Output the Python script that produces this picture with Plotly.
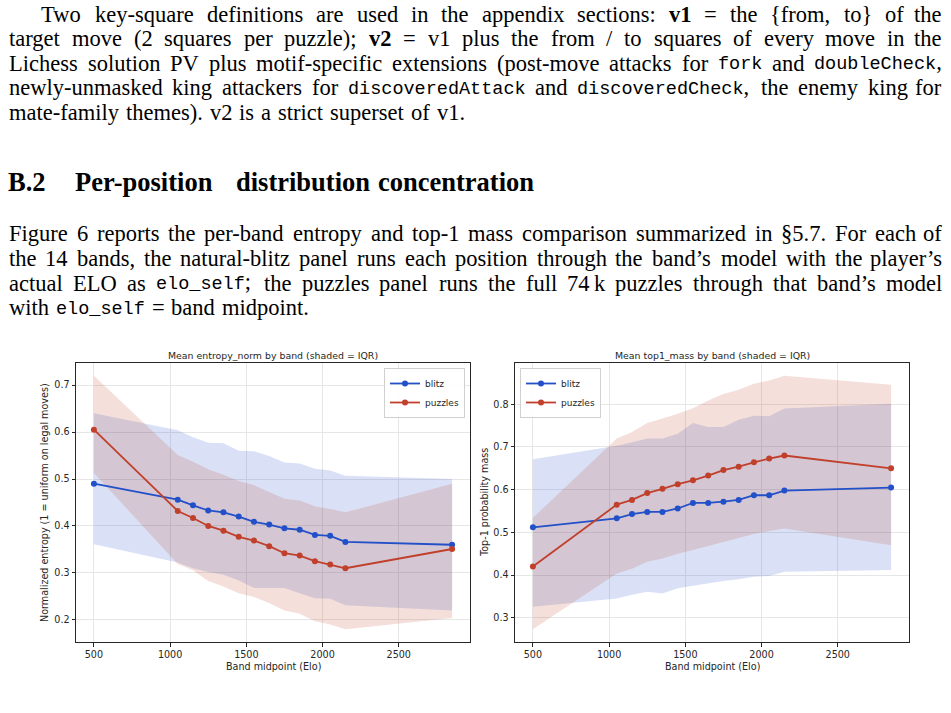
import html
import plotly.graph_objects as go

# ---------------- data ----------------
BANDS = [500, 1050, 1150, 1250, 1350, 1450, 1550, 1650, 1750, 1850, 1950, 2050, 2150, 2850]

entropy_blitz_mean = [0.490, 0.456, 0.444, 0.433, 0.429, 0.420, 0.409, 0.403, 0.395, 0.392, 0.381, 0.379, 0.366, 0.360]
entropy_blitz_q1 = [0.361, 0.322, 0.310, 0.302, 0.296, 0.284, 0.268, 0.268, 0.268, 0.257, 0.246, 0.245, 0.231, 0.220]
entropy_blitz_q3 = [0.640, 0.604, 0.589, 0.577, 0.576, 0.560, 0.559, 0.549, 0.535, 0.533, 0.522, 0.518, 0.507, 0.500]
entropy_puzzles_mean = [0.605, 0.432, 0.417, 0.400, 0.390, 0.377, 0.369, 0.357, 0.342, 0.337, 0.325, 0.318, 0.310, 0.351]
entropy_puzzles_q1 = [0.513, 0.319, 0.306, 0.283, 0.271, 0.257, 0.249, 0.236, 0.220, 0.213, 0.197, 0.190, 0.180, 0.204]
entropy_puzzles_q3 = [0.720, 0.551, 0.537, 0.521, 0.509, 0.496, 0.487, 0.473, 0.458, 0.454, 0.442, 0.436, 0.429, 0.490]

top1_blitz_mean = [0.512, 0.533, 0.543, 0.548, 0.548, 0.556, 0.569, 0.569, 0.572, 0.576, 0.587, 0.587, 0.598, 0.605]
top1_blitz_q1 = [0.326, 0.345, 0.354, 0.361, 0.357, 0.369, 0.375, 0.381, 0.386, 0.390, 0.396, 0.398, 0.408, 0.412]
top1_blitz_q3 = [0.671, 0.703, 0.711, 0.720, 0.720, 0.731, 0.756, 0.747, 0.747, 0.764, 0.773, 0.772, 0.790, 0.801]
top1_puzzles_mean = [0.420, 0.565, 0.576, 0.592, 0.602, 0.613, 0.622, 0.633, 0.646, 0.654, 0.664, 0.673, 0.680, 0.650]
top1_puzzles_q1 = [0.273, 0.404, 0.415, 0.431, 0.439, 0.450, 0.459, 0.468, 0.478, 0.486, 0.496, 0.503, 0.509, 0.470]
top1_puzzles_q3 = [0.534, 0.720, 0.735, 0.756, 0.767, 0.778, 0.791, 0.809, 0.824, 0.834, 0.848, 0.856, 0.867, 0.846]

X_TICKS = [500, 1000, 1500, 2000, 2500]
Y1_TICKS = [0.2, 0.3, 0.4, 0.5, 0.6, 0.7]
Y2_TICKS = [0.3, 0.4, 0.5, 0.6, 0.7, 0.8]

TITLE_LEFT = "Mean entropy_norm by band (shaded = IQR)"
TITLE_RIGHT = "Mean top1_mass by band (shaded = IQR)"
YLABEL_LEFT = "Normalized entropy (1 = uniform on legal moves)"
YLABEL_RIGHT = "Top-1 probability mass"
XLABEL = "Band midpoint (Elo)"

PARA1 = [
    "Two key-square definitions are used in the appendix sections: **v1** = the {from, to} of the",
    "target move (2 squares per puzzle); **v2** = v1 plus the from / to squares of every move in the",
    "Lichess solution PV plus motif-specific extensions (post-move attacks for `fork` and `doubleCheck`,",
    "newly-unmasked king attackers for `discoveredAttack` and `discoveredCheck`, the enemy king for",
    "mate-family themes). v2 is a strict superset of v1.",
]
HEADING = ["B.2", "Per-position", "distribution", "concentration"]
PARA2 = [
    "Figure 6 reports the per-band entropy and top-1 mass comparison summarized in §5.7. For each of",
    "the 14 bands, the natural-blitz panel runs each position through the band’s model with the player’s",
    "actual ELO as `elo_self`; the puzzles panel runs the full 74\u2009k puzzles through that band’s model",
    "with `elo_self` = band midpoint.",
]

# ---------------- layout constants ----------------
W, H = 951, 713
BLUE = "#2250c8"
RED = "#c0402b"
BLUE_FILL = "rgba(34,80,200,0.17)"
RED_FILL = "rgba(192,64,43,0.17)"
SERIF = "Liberation Serif"
MONO = "Liberation Mono"
SANS = "DejaVu Sans"
FS = 22.5
MFS = 18.5
MONO_LIFT = 1.0


def _mk(groups):
    d = {}
    for chars, w in groups:
        for c in chars:
            d[c] = w
    return d


TIMES_R = _mk([
    (" ,.", 250), ("ijlt:;/\\", 278), ("fr()-[]I'’!", 333), ("sJ", 389), ("acez?", 444),
    ("{}", 480), ("bdghknopquvxy0123456789_§*$#", 500), ("FPS", 556), ("=+<>", 564),
    ("ELTZ", 611), ("BCR", 667), ("ADGHKNOQUVXYw", 722), ("m&", 778), ("%", 833),
    ("M", 889), ("W", 944), ("|", 200), ("\u2009", 167),
])
TIMES_B = _mk([
    (" ,.", 250), ("il:;", 278), ("ftj()-", 333), ("sI", 389), ("cerz", 444),
    ("agovxy0123456789J", 500), ("bdhknpquS", 556), ("FP", 611), ("BELTZ", 667),
    ("ACDNRUVXYw", 722), ("GHKOQ", 778), ("m", 833), ("M", 944), ("W", 1000),
])


def parse_word(w):
    segs, style, buf, i = [], "r", "", 0
    while i < len(w):
        if w.startswith("**", i):
            if buf:
                segs.append((buf, style))
                buf = ""
            style = "r" if style == "b" else "b"
            i += 2
            continue
        if w[i] == "`":
            if buf:
                segs.append((buf, style))
                buf = ""
            style = "r" if style == "m" else "m"
            i += 1
            continue
        buf += w[i]
        i += 1
    if buf:
        segs.append((buf, style))
    return segs


def seg_width(text, style, fs=FS):
    if style == "m":
        return 0.6 * MFS * len(text)
    table = TIMES_B if style == "b" else TIMES_R
    return sum(table.get(c, 500) for c in text) * fs / 1000.0


def word_width(segs):
    w = sum(seg_width(t, s) for t, s in segs)
    if len(set(s for _, s in segs)) > 1:
        w += 2.0
    return w


def seg_html(text, style):
    t = html.escape(text, quote=False)
    if style == "b":
        return "<b>" + t + "</b>"
    if style == "m":
        return "<span style=\"font-family:Liberation Mono;font-size:%spx\">%s</span>" % (MFS, t)
    return t


annotations = []


def word_ann(px, baseline, segs, anchor="left"):
    all_mono = all(s == "m" for _, s in segs)
    any_mono = any(s == "m" for _, s in segs)
    if all_mono:
        text = html.escape("".join(t for t, _ in segs), quote=False)
        font = dict(family=MONO, size=MFS, color="black")
        off = (0.833 - 0.300) / 2 * MFS
    else:
        text = "".join(seg_html(t, s) for t, s in segs)
        font = dict(family=SERIF, size=FS, color="black")
        off = (0.891 - 0.216) / 2 * FS
    if any_mono:
        off += MONO_LIFT
    annotations.append(dict(
        x=px / W, y=1 - (baseline - off) / H, xref="paper", yref="paper",
        xanchor=anchor, yanchor="middle", showarrow=False, text=text,
        font=font, borderpad=0,
    ))


def layout_line(line, x0, x1, baseline, justify):
    words = [parse_word(w) for w in line.split(" ")]
    widths = [word_width(ws) for ws in words]
    if justify and len(words) > 1:
        gap = (x1 - x0 - sum(widths)) / (len(words) - 1)
    else:
        gap = 7.0
    x = x0
    n = len(words)
    for k, (ws, wd) in enumerate(zip(words, widths)):
        if justify and k == n - 1:
            word_ann(x1, baseline, ws, anchor="right")
        else:
            word_ann(x, baseline, ws)
        x += wd + gap


P1_BASE = [21.7, 46.3, 70.9, 95.5, 120.1]
for i, line in enumerate(PARA1):
    layout_line(line, 40 if i == 0 else 8, 943, P1_BASE[i], i < len(PARA1) - 1)

P2_BASE = [241.5, 266.1, 290.7, 315.3]
for i, line in enumerate(PARA2):
    layout_line(line, 8, 943, P2_BASE[i], i < len(PARA2) - 1)

HEAD_X = [7.3, 74, 234.5, 377]
HFS = 26.5
for hx, hw in zip(HEAD_X, HEADING):
    annotations.append(dict(
        x=hx / W, y=1 - (190.7 - (0.891 - 0.216) / 2 * HFS) / H, xref="paper", yref="paper",
        xanchor="left", yanchor="middle", showarrow=False, text="<b>" + hw + "</b>",
        font=dict(family=SERIF, size=HFS, color="black"), borderpad=0,
    ))

# ---------------- chart ----------------
fig = go.Figure()


def pad_range(*arrs):
    vals = [v for a in arrs for v in a]
    lo, hi = min(vals), max(vals)
    m = 0.05 * (hi - lo)
    return [lo - m, hi + m]


def add_panel(xa, ya, legend, b_mean, b_q1, b_q3, p_mean, p_q1, p_q3):
    common = dict(x=BANDS, xaxis=xa, yaxis=ya, hoverinfo="skip")
    fig.add_trace(go.Scatter(y=b_q1, mode="lines", line=dict(width=0, color=BLUE),
                             showlegend=False, **common))
    fig.add_trace(go.Scatter(y=b_q3, mode="lines", line=dict(width=0, color=BLUE),
                             fill="tonexty", fillcolor=BLUE_FILL, showlegend=False, **common))
    fig.add_trace(go.Scatter(y=p_q1, mode="lines", line=dict(width=0, color=RED),
                             showlegend=False, **common))
    fig.add_trace(go.Scatter(y=p_q3, mode="lines", line=dict(width=0, color=RED),
                             fill="tonexty", fillcolor=RED_FILL, showlegend=False, **common))
    fig.add_trace(go.Scatter(y=b_mean, mode="lines+markers", name="blitz", legend=legend,
                             line=dict(width=1.8, color=BLUE), marker=dict(size=6, color=BLUE),
                             **common))
    fig.add_trace(go.Scatter(y=p_mean, mode="lines+markers", name="puzzles", legend=legend,
                             line=dict(width=1.8, color=RED), marker=dict(size=6, color=RED),
                             **common))


add_panel("x", "y", "legend", entropy_blitz_mean, entropy_blitz_q1, entropy_blitz_q3,
          entropy_puzzles_mean, entropy_puzzles_q1, entropy_puzzles_q3)
add_panel("x2", "y2", "legend2", top1_blitz_mean, top1_blitz_q1, top1_blitz_q3,
          top1_puzzles_mean, top1_puzzles_q1, top1_puzzles_q3)

L_X = (76, 470)
R_X = (515, 909)
TOP, BOT = 363, 642
CFS = 9.6

axis_common = dict(
    showline=True, linecolor="#262626", linewidth=1, mirror=True,
    ticks="outside", ticklen=3.5, tickwidth=0.8, tickcolor="#262626",
    showgrid=True, gridcolor="#e6e6e6", gridwidth=0.8, zeroline=False,
    tickfont=dict(family=SANS, size=CFS, color="#262626"),
)

legend_common = dict(
    bgcolor="rgba(255,255,255,0.85)", bordercolor="#d0d0d0", borderwidth=1,
    font=dict(family=SANS, size=9, color="#262626"), itemwidth=30,
    tracegroupgap=0, traceorder="normal",
)

xr = pad_range(BANDS)
fig.update_layout(
    width=W, height=H, margin=dict(l=0, r=0, t=0, b=0),
    paper_bgcolor="white", plot_bgcolor="white",
    xaxis=dict(domain=[L_X[0] / W, L_X[1] / W], anchor="y", range=xr,
               tickvals=X_TICKS, **axis_common),
    yaxis=dict(domain=[1 - BOT / H, 1 - TOP / H], anchor="x",
               range=pad_range(entropy_blitz_q1, entropy_blitz_q3, entropy_puzzles_q1, entropy_puzzles_q3),
               tickvals=Y1_TICKS, tickformat=".1f", **axis_common),
    xaxis2=dict(domain=[R_X[0] / W, R_X[1] / W], anchor="y2", range=xr,
                tickvals=X_TICKS, **axis_common),
    yaxis2=dict(domain=[1 - BOT / H, 1 - TOP / H], anchor="x2",
                range=pad_range(top1_blitz_q1, top1_blitz_q3, top1_puzzles_q1, top1_puzzles_q3),
                tickvals=Y2_TICKS, tickformat=".1f", **axis_common),
    legend=dict(x=(L_X[1] - 5) / W, y=1 - (TOP + 5) / H, xanchor="right", yanchor="top",
                **legend_common),
    legend2=dict(x=(R_X[0] + 5) / W, y=1 - (TOP + 5) / H, xanchor="left", yanchor="top",
                 **legend_common),
    showlegend=True,
)

chart_font = dict(family=SANS, size=9.4, color="#262626")
label_font = dict(family=SANS, size=CFS, color="#262626")
for (x0, x1), title in [(L_X, TITLE_LEFT), (R_X, TITLE_RIGHT)]:
    annotations.append(dict(x=(x0 + x1) / 2 / W, y=1 - 355 / H, xref="paper", yref="paper",
                            xanchor="center", yanchor="middle", showarrow=False,
                            text=title, font=chart_font))
    annotations.append(dict(x=(x0 + x1) / 2 / W, y=1 - 666 / H, xref="paper", yref="paper",
                            xanchor="center", yanchor="middle", showarrow=False,
                            text=XLABEL, font=label_font))
annotations.append(dict(x=45 / W, y=1 - 503 / H, xref="paper", yref="paper", textangle=-90,
                        xanchor="center", yanchor="middle", showarrow=False,
                        text=YLABEL_LEFT, font=label_font))
annotations.append(dict(x=485 / W, y=1 - 503 / H, xref="paper", yref="paper", textangle=-90,
                        xanchor="center", yanchor="middle", showarrow=False,
                        text=YLABEL_RIGHT, font=label_font))

fig.update_layout(annotations=annotations)
fig.write_html("out.html")
